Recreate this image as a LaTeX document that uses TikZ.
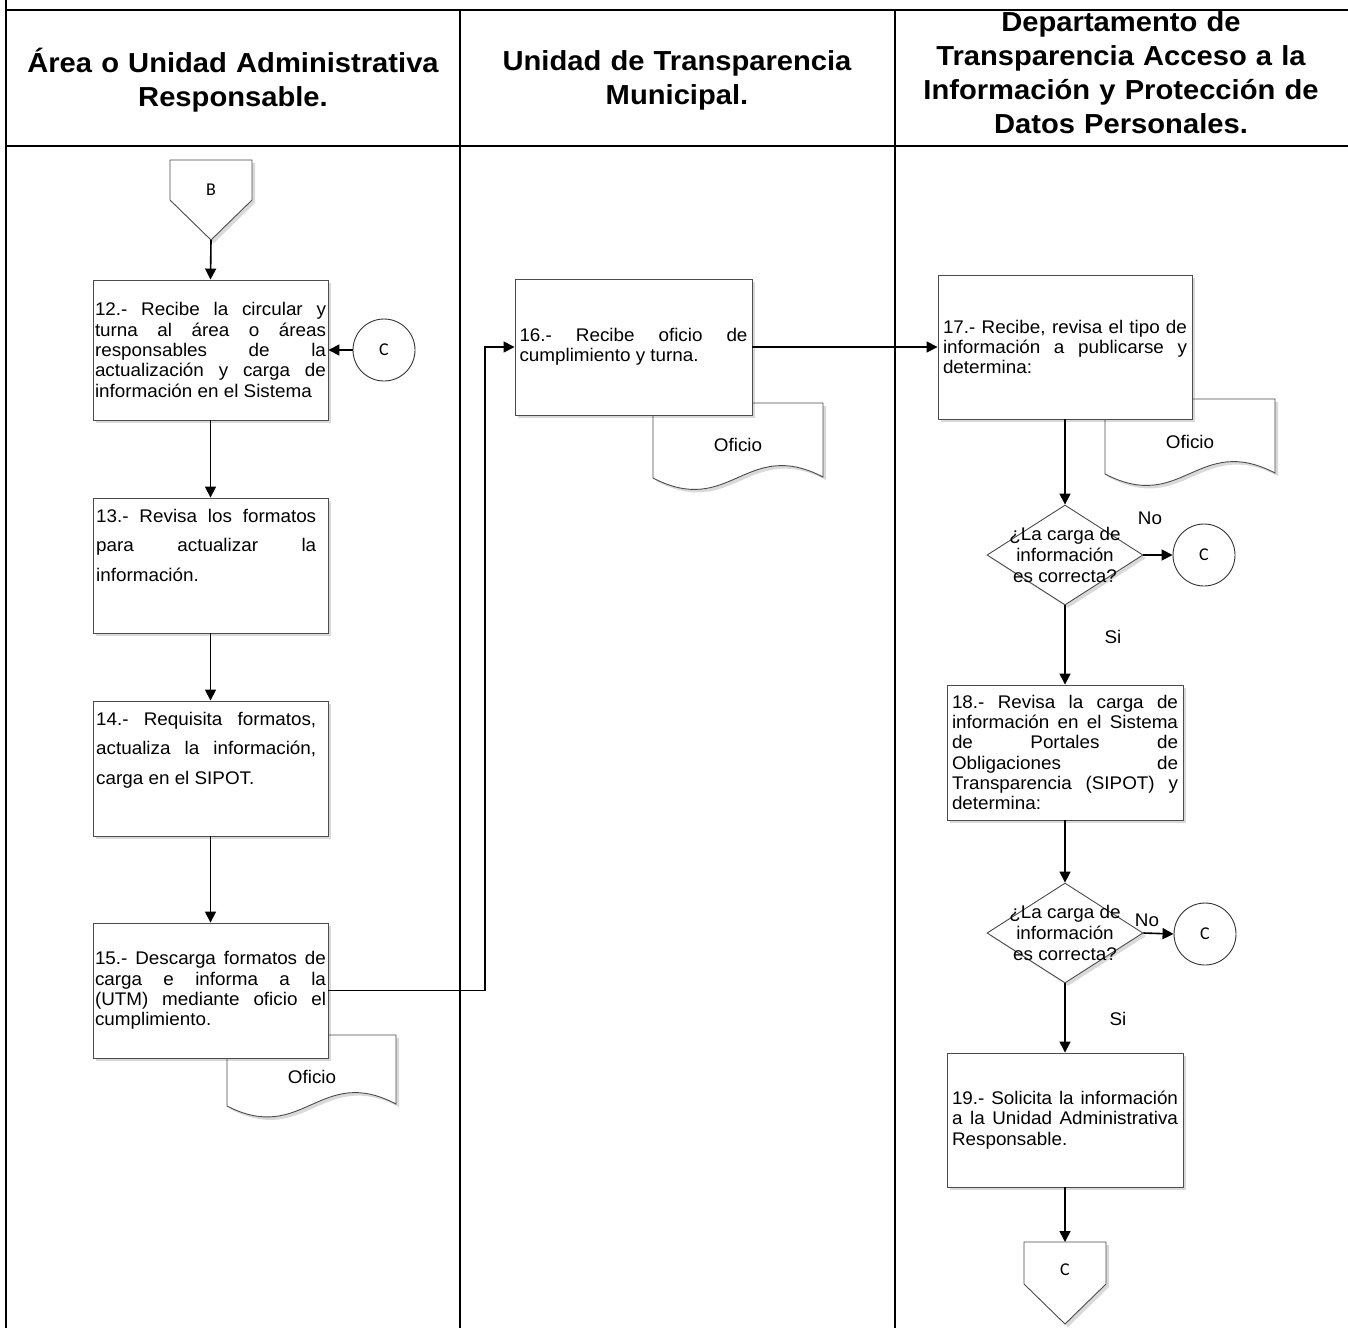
\documentclass[tikz,border=0pt]{standalone}
\usepackage{fontspec}
\setmainfont{Liberation Sans}
\newfontfamily\bodyfont{Liberation Sans}[FakeStretch=1.03]
\newfontfamily\headfont{Liberation Sans}[FakeStretch=1.06]
\newfontfamily\markfont{Carlito}
\usetikzlibrary{arrows.meta,shadows,shapes.geometric}

\begin{document}
\tolerance=10000 \hbadness=10000 \hyphenpenalty=10000 \exhyphenpenalty=10000
\begin{tikzpicture}[x=1pt,y=-1pt,
  frame/.style={line width=2.6pt},
  head/.style={font={\headfont\bfseries\fontsize{27.5}{34}\selectfont}, align=center, text width=440pt, inner sep=0pt},
  shade/.style={drop shadow={shadow xshift=3pt,shadow yshift=-3pt,fill=black,opacity=0.15}},
  outline/.style={draw=black!70, line width=0.9pt, fill=white, shade},
  proc/.style={outline, inner sep=0pt},
  body/.style={font={\bodyfont\fontsize{18.3}{20.3}\selectfont}, align=justify, inner sep=0pt},
  wide/.style={font={\bodyfont\fontsize{18.3}{29.5}\selectfont}, align=justify, inner sep=0pt, text width=220pt, anchor=north west},
  decide/.style={diamond, outline, inner sep=0pt, minimum width=156pt, minimum height=100pt},
  asktext/.style={font={\bodyfont\fontsize{18.3}{21}\selectfont}, align=center, inner sep=0pt},
  link/.style={circle, draw=black!80, line width=0.9pt, fill=white, minimum size=62pt, inner sep=0pt, font={\markfont\fontsize{18}{20}\selectfont}},
  marktext/.style={font={\markfont\fontsize{18}{20}\selectfont}, inner sep=0pt},
  tag/.style={font={\bodyfont\fontsize{18.3}{20}\selectfont}, inner sep=0pt},
  flow/.style={line width=1.6pt, -{Triangle[length=11pt,width=11pt]}}
]
\useasboundingbox (0,0) rectangle (1348,1328);
\fill[white] (0,0) rectangle (1348,1328);

% lane frame
\draw[frame] (6,0) -- (6,1328);
\draw[frame] (6,10) -- (1348,10);
\draw[frame] (6,146) -- (1348,146);
\draw[frame] (460,10) -- (460,1328);
\draw[frame] (895,10) -- (895,1328);

% lane titles
\node[head] (h1) at (233,80) {Área o Unidad Administrativa\\Responsable.};
\node[head] (h2) at (677,80) {Unidad de Transparencia\\Municipal.};
\node[head] (h3) at (1121,73) {Departamento de\\Transparencia Acceso a la\\Información y Protección de\\Datos Personales.};

% documents (drawn first, partly behind the process boxes)
\draw[outline] (227,1035) -- (396,1035) -- (396,1104)
  .. controls (320,1064) and (303,1145) .. (227,1106) -- cycle;
\node[tag] (doc15) at (312,1077) {Oficio};
\draw[outline] (653,403) -- (823,403) -- (823,477)
  .. controls (746,437) and (730,518) .. (653,478) -- cycle;
\node[tag] (doc16) at (738,445) {Oficio};
\draw[outline] (1105,399) -- (1275,399) -- (1275,473)
  .. controls (1198,433) and (1182,514) .. (1105,474) -- cycle;
\node[tag] (doc17) at (1190,442) {Oficio};

% off-page connector B
\draw[outline] (170,160) -- (252,160) -- (252,200) -- (211,240) -- (170,200) -- cycle;
\node[marktext] (offB) at (211,190) {B};
\coordinate (Btip) at (211,240);

% column 1
\node[proc, minimum width=235pt, minimum height=140pt] (b12) at (210.5,350) {};
\node[body, text width=231pt] (t12) at (210.5,350) {12.- Recibe la circular y\linebreak
  turna al área o áreas\linebreak responsables de la\linebreak
  actualización y carga de\linebreak información en el Sistema};
\node[link] (c1) at (384,350) {C};

\node[proc, minimum width=235pt, minimum height=135pt] (b13) at (210.5,565.5) {};
\node[wide] (t13) at (96,509) {13.- Revisa los formatos\linebreak para actualizar la\linebreak información.};

\node[proc, minimum width=235pt, minimum height=135pt] (b14) at (210.5,768.5) {};
\node[wide] (t14) at (96,712) {14.- Requisita formatos,\linebreak actualiza la información,\linebreak carga en el SIPOT.};

\node[proc, minimum width=235pt, minimum height=135pt] (b15) at (210.5,990.5) {};
\node[body, text width=231pt] (t15) at (210.5,990.5) {15.- Descarga formatos de\linebreak
  carga e informa a la\linebreak (UTM) mediante oficio el\linebreak cumplimiento.};

% column 2
\node[proc, minimum width=237pt, minimum height=136pt] (b16) at (633.5,347) {};
\node[body, text width=228pt] (t16) at (633.5,347) {16.- Recibe oficio de\linebreak cumplimiento y turna.};
\coordinate (jog) at (485,0);

% column 3
\node[proc, minimum width=254pt, minimum height=144pt] (b17) at (1065,347) {};
\node[body, text width=244pt] (t17) at (1065,347) {17.- Recibe, revisa el tipo de\linebreak
  información a publicarse y\linebreak determina:};

\node[decide] (d1) at (1065,555) {};
\node[asktext] (q1) at (1065,555) {¿La carga de\\información\\es correcta?};
\node[link] (c2) at (1204,555) {C};
\node[tag] (no1) at (1150,518) {No};
\node[tag] (si1) at (1113,637) {Si};

\node[proc, minimum width=236pt, minimum height=135pt] (b18) at (1065,752.5) {};
\node[body, text width=226pt] (t18) at (1065,752.5) {18.- Revisa la carga de\linebreak
  información en el Sistema\linebreak de Portales de\linebreak Obligaciones de\linebreak
  Transparencia (SIPOT) y\linebreak determina:};

\node[decide] (d2) at (1065,933) {};
\node[asktext] (q2) at (1065,933) {¿La carga de\\información\\es correcta?};
\node[link] (c3) at (1205,934) {C};
\node[tag] (no2) at (1147,920) {No};
\node[tag] (si2) at (1118,1019) {Si};

\node[proc, minimum width=236pt, minimum height=134pt] (b19) at (1065,1120) {};
\node[body, text width=226pt] (t19) at (1065,1120) {19.- Solicita la información\linebreak
  a la Unidad Administrativa\linebreak Responsable.};

% off-page connector C
\draw[outline] (1024,1242) -- (1106,1242) -- (1106,1284) -- (1065,1324) -- (1024,1284) -- cycle;
\node[marktext] (offC) at (1065,1270) {C};
\coordinate (Ctop) at (1065,1242);

% connectors
\draw[flow] (Btip) -- (b12.north);
\draw[flow] (c1.west) -- (b12.east);
\draw[flow] (b12.south) -- (b13.north);
\draw[flow] (b13.south) -- (b14.north);
\draw[flow] (b14.south) -- (b15.north);
\draw[flow] (b15.east) -- (b15.east -| jog) |- (b16.west);
\draw[flow] (b16.east) -- (b17.west);
\draw[flow] (b17.south) -- (d1.north);
\draw[flow] (d1.east) -- (c2.west);
\draw[flow] (d1.south) -- (b18.north);
\draw[flow] (b18.south) -- (d2.north);
\draw[flow] (d2.east) -- (c3.west);
\draw[flow] (d2.south) -- (b19.north);
\draw[flow] (b19.south) -- (Ctop);
\end{tikzpicture}
\end{document}
